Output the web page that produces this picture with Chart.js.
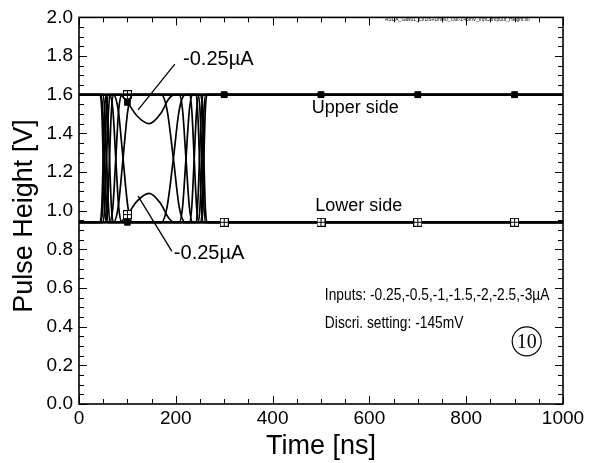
<!DOCTYPE html>
<html><head><meta charset="utf-8">
<script src="https://cdn.jsdelivr.net/npm/chart.js@4.4.1/dist/chart.umd.min.js"></script>
<style>html,body{margin:0;padding:0;background:#fff;}#wrap{width:594px;height:463px;}</style>
</head><body><div id="wrap"><canvas id="c" width="594" height="463"></canvas></div>
<script>
// ---- data ----
const xTicks = [0, 200, 400, 600, 800, 1000];
const yTicks = [0.0, 0.2, 0.4, 0.6, 0.8, 1.0, 1.2, 1.4, 1.6, 1.8, 2.0];
const inputs = ["-0.25", "-0.5", "-1", "-1.5", "-2", "-2.5", "-3"];
const markerTimes = [100, 300, 500, 700, 900];

// upper side curves [time ns, pulse height V]
const upper_025 = [[0,1.6],[84,1.6],[100,1.56],[120,1.49],[145,1.45],[168,1.5],[186,1.58],[198,1.6],[300,1.6],[500,1.6],[700,1.6],[900,1.6],[1000,1.6]];
const upper_05  = [[0,1.6],[71,1.6],[81,1.52],[91,1.27],[101,1.02],[111,0.94],[170,0.94],[182,1.02],[195,1.27],[207,1.52],[220,1.6],[1000,1.6]];
const upper_1   = [[0,1.6],[63,1.6],[70,1.52],[76,1.27],[82,1.02],[89,0.94],[207,0.94],[214,1.02],[221,1.27],[228,1.52],[235,1.6],[1000,1.6]];
const upper_15  = [[0,1.6],[54,1.6],[59,1.52],[63,1.27],[67,1.02],[72,0.94],[228,0.94],[233,1.02],[238,1.27],[243,1.52],[248,1.6],[1000,1.6]];
const upper_2   = [[0,1.6],[49,1.6],[53,1.52],[57,1.27],[61,1.02],[65,0.94],[241,0.94],[245,1.02],[249,1.27],[253,1.52],[257,1.6],[1000,1.6]];
const upper_25  = [[0,1.6],[45,1.6],[49,1.52],[53,1.27],[57,1.02],[61,0.94],[246,0.94],[250,1.02],[254,1.27],[258,1.52],[262,1.6],[1000,1.6]];
const upper_3   = [[0,1.6],[43,1.6],[47,1.52],[50,1.27],[53,1.02],[57,0.94],[100,0.94],[251,0.94],[255,1.02],[258,1.27],[261,1.52],[265,1.6],[300,1.6],[500,1.6],[700,1.6],[900,1.6],[1000,1.6]];
// lower side curves
const lower_025 = [[0,0.94],[84,0.94],[100,0.98],[120,1.05],[145,1.09],[168,1.04],[186,0.96],[198,0.94],[300,0.94],[500,0.94],[700,0.94],[900,0.94],[1000,0.94]];
const lower_05  = [[0,0.94],[71,0.94],[81,1.02],[91,1.27],[101,1.52],[111,1.6],[170,1.6],[182,1.52],[195,1.27],[207,1.02],[220,0.94],[1000,0.94]];
const lower_1   = [[0,0.94],[63,0.94],[70,1.02],[76,1.27],[82,1.52],[89,1.6],[207,1.6],[214,1.52],[221,1.27],[228,1.02],[235,0.94],[1000,0.94]];
const lower_15  = [[0,0.94],[54,0.94],[59,1.02],[63,1.27],[67,1.52],[72,1.6],[228,1.6],[233,1.52],[238,1.27],[243,1.02],[248,0.94],[1000,0.94]];
const lower_2   = [[0,0.94],[49,0.94],[53,1.02],[57,1.27],[61,1.52],[65,1.6],[241,1.6],[245,1.52],[249,1.27],[253,1.02],[257,0.94],[1000,0.94]];
const lower_25  = [[0,0.94],[45,0.94],[49,1.02],[53,1.27],[57,1.52],[61,1.6],[246,1.6],[250,1.52],[254,1.27],[258,1.02],[262,0.94],[1000,0.94]];
const lower_3   = [[0,0.94],[43,0.94],[47,1.02],[50,1.27],[53,1.52],[57,1.6],[100,1.6],[251,1.6],[255,1.52],[258,1.27],[261,1.02],[265,0.94],[300,0.94],[500,0.94],[700,0.94],[900,0.94],[1000,0.94]];

const upperCurves = [upper_025, upper_05, upper_1, upper_15, upper_2, upper_25, upper_3];
const lowerCurves = [lower_025, lower_05, lower_1, lower_15, lower_2, lower_25, lower_3];
const withMarkers = ["-0.25", "-3"];

const FONT = "'Liberation Sans', Arial, sans-serif";

// open square marker with cross
const openSq = document.createElement('canvas');
openSq.width = 9; openSq.height = 9;
(function(){const g=openSq.getContext('2d');g.fillStyle='#fff';g.fillRect(0,0,9,9);g.strokeStyle='#000';g.lineWidth=1;
g.strokeRect(0.5,0.5,8,8);g.beginPath();g.moveTo(4.5,0.5);g.lineTo(4.5,8.5);g.moveTo(0.5,4.5);g.lineTo(8.5,4.5);g.stroke();})();

function mk(arr, label, side){
  const hasM = withMarkers.includes(label);
  return {
    label: label + 'µA ' + side,
    data: arr.map(p => ({x:p[0], y:p[1]})),
    borderColor:'#000', borderWidth:1.7,
    cubicInterpolationMode:'monotone',
    pointStyle: side==='upper' ? 'rect' : openSq,
    backgroundColor: side==='upper' ? '#000' : '#fff',
    pointBorderColor:'#000', pointBorderWidth:1,
    pointRadius: c => (hasM && markerTimes.includes(c.raw.x)) ? 4 : 0,
    pointHoverRadius:0
  };
}
const datasets = [];
inputs.forEach((lab,i)=>{ datasets.push(mk(upperCurves[i], lab, 'upper')); datasets.push(mk(lowerCurves[i], lab, 'lower')); });

function condensed(ctx, text, px, py, sx){
  ctx.save(); ctx.translate(px,py); ctx.scale(sx,1); ctx.fillText(text,0,0); ctx.restore();
}

const deco = {
  id:'deco',
  afterDraw(chart){
    const {ctx, chartArea:a, scales:{x,y}} = chart;
    ctx.save();
    // frame
    ctx.strokeStyle='#000'; ctx.lineWidth=1.6;
    ctx.strokeRect(a.left, a.top, a.right-a.left, a.bottom-a.top);
    // inward ticks
    ctx.lineWidth=1;
    ctx.beginPath();
    for(let v=0; v<=1000; v+=50){
      const px = Math.round(x.getPixelForValue(v))+0.5;
      const L = (v%200===0)?8:5;
      ctx.moveTo(px,a.bottom); ctx.lineTo(px,a.bottom-L);
      ctx.moveTo(px,a.top); ctx.lineTo(px,a.top+L);
    }
    for(let k=0; k<=40; k++){
      const v=k*0.05;
      const py = Math.round(y.getPixelForValue(v))+0.5;
      const L = (k%4===0)?8:5;
      ctx.moveTo(a.left,py); ctx.lineTo(a.left+L,py);
      ctx.moveTo(a.right,py); ctx.lineTo(a.right-L,py);
    }
    ctx.stroke();
    // y title
    ctx.fillStyle='#000';
    ctx.save();
    ctx.translate(25, 216); ctx.rotate(-Math.PI/2);
    ctx.font = '27px '+FONT; ctx.textAlign='center'; ctx.textBaseline='middle';
    ctx.fillText('Pulse Height [V]',0,0);
    ctx.restore();
    // annotations
    const P = (vx,vy)=>[x.getPixelForValue(vx), y.getPixelForValue(vy)];
    ctx.font='18px '+FONT; ctx.textAlign='left'; ctx.textBaseline='middle';
    let p;
    p=P(481,1.532); ctx.fillText('Upper side',p[0],p[1]);
    p=P(488,1.023); ctx.fillText('Lower side',p[0],p[1]);
    ctx.font='17px '+FONT;
    p=P(508,0.56); condensed(ctx,'Inputs: -0.25,-0.5,-1,-1.5,-2,-2.5,-3µA',p[0],p[1],0.81);
    p=P(508,0.42); condensed(ctx,'Discri. setting: -145mV',p[0],p[1],0.81);
    ctx.font='20px '+FONT;
    p=P(215,1.784); ctx.fillText('-0.25µA',p[0],p[1]);
    p=P(196,0.78); ctx.fillText('-0.25µA',p[0],p[1]);
    // leader lines
    ctx.lineWidth=1.3; ctx.beginPath();
    let s=P(198,1.758), e=P(122,1.522); ctx.moveTo(s[0],s[1]); ctx.lineTo(e[0],e[1]);
    s=P(122,1.075); e=P(192,0.79); ctx.moveTo(s[0],s[1]); ctx.lineTo(e[0],e[1]);
    ctx.stroke();
    // circled 10
    p=P(925,0.324);
    ctx.lineWidth=1.2; ctx.beginPath(); ctx.arc(p[0],p[1],14.5,0,Math.PI*2); ctx.stroke();
    ctx.font="20px 'Liberation Serif', serif"; ctx.textAlign='center';
    ctx.fillText('10',p[0],p[1]+1);
    // file name
    ctx.font='5px '+FONT; ctx.textAlign='left';
    ctx.fillText('ASDA_Gas01_LVDS+Dme0_Out-145mV_InpComp0ut_Height.xll', 385, a.top+2);
    ctx.restore();
  }
};

new Chart(document.getElementById('c'), {
  type:'line',
  data:{datasets},
  options:{
    responsive:false, animation:false,
    layout:{padding:{left:0,right:31,top:15,bottom:0}},
    plugins:{legend:{display:false}, tooltip:{enabled:false}},
    scales:{
      x:{type:'linear', min:0, max:1000,
        afterBuildTicks: s => { s.ticks = xTicks.map(v=>({value:v})); },
        afterFit: s => { s.height = 59; },
        grid:{display:false, drawTicks:false, tickLength:0}, border:{display:false},
        ticks:{color:'#000', font:{family:FONT, size:19}, padding:3, maxRotation:0, callback: v => String(v)},
        title:{display:true, text:'Time [ns]', color:'#000', font:{family:FONT, size:27}, padding:{top:0,bottom:0}}
      },
      y:{type:'linear', min:0, max:2,
        afterBuildTicks: s => { s.ticks = yTicks.map(v=>({value:v})); },
        afterFit: s => { s.width = 79; },
        grid:{display:false, drawTicks:false, tickLength:0}, border:{display:false},
        ticks:{color:'#000', font:{family:FONT, size:19}, padding:6, callback: v => Number(v).toFixed(1)}
      }
    }
  },
  plugins:[deco]
});
</script></body></html>
